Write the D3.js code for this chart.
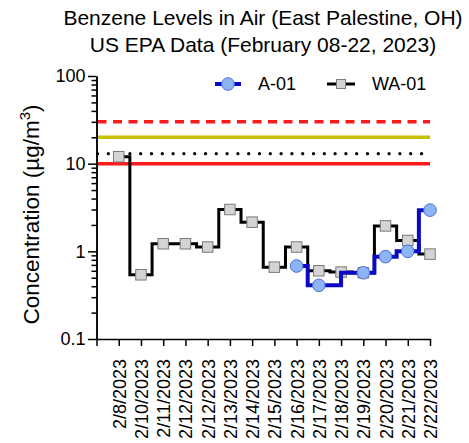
<!DOCTYPE html>
<html>
<head>
<meta charset="utf-8">
<script src="https://cdn.jsdelivr.net/npm/d3@7"></script>
<style>
  html, body { margin: 0; padding: 0; background: #fff; }
  svg { display: block; font-family: "Liberation Sans", Arial, sans-serif; }
</style>
</head>
<body>
<svg id="chart" width="469" height="443"></svg>
<script>
// ---- Data ----
const titleLines = ["Benzene Levels in Air (East Palestine, OH)", "US EPA Data (February 08-22, 2023)"];
const categories = ["2/8/2023", "2/10/2023", "2/11/2023", "2/12/2023", "2/12/2023", "2/13/2023", "2/14/2023",
  "2/15/2023", "2/16/2023", "2/17/2023", "2/18/2023", "2/19/2023", "2/20/2023", "2/21/2023", "2/22/2023"];
const seriesNames = ["A-01", "WA-01"];
const a01 = [null, null, null, null, null, null, null, null, 0.68, 0.41, null, 0.57, 0.87, 1.0, 2.95];
const wa01 = [12, 0.54, 1.22, 1.22, 1.12, 3.0, 2.15, 0.66, 1.12, 0.6, 0.58, 0.57, 1.95, 1.33, 0.93];
const refLevels = [30, 20, 13, 10];
const yTickValues = [0.1, 1, 10, 100];
const yTickLabels = ["0.1", "1", "10", "100"];

// ---- Layout ----
const svg = d3.select("#chart");
const pLeft = 96.5, pRight = 430, pTop = 76, pBottom = 339;

const x = d3.scaleLinear().domain([0, categories.length]).range([pLeft, pRight]);
const y = d3.scaleLog().domain([0.1, 100]).range([pBottom, pTop]);

// Title
svg.append("g").selectAll("text").data(titleLines).join("text")
  .attr("x", 263).attr("y", (d, i) => 25 + i * 26.5)
  .attr("text-anchor", "middle").attr("font-size", 21).attr("fill", "#000")
  .text(d => d);

// Y axis label
svg.append("text")
  .attr("transform", `translate(39,${(pTop + pBottom) / 2 + 7}) rotate(-90)`)
  .attr("text-anchor", "middle").attr("font-size", 22.5).attr("fill", "#000")
  .call(t => {
    t.append("tspan").text("Concentration (µg/m");
    t.append("tspan").attr("font-size", 15).attr("dy", -9).text("3");
    t.append("tspan").attr("dy", 9).text(")");
  });

// Reference lines
const refStyles = [
  { stroke: "#ff1a1a", width: 3.5, dash: "9 6.5", cap: "butt" },
  { stroke: "#c8c000", width: 3.5, dash: null, cap: "butt" },
  { stroke: "#000", width: 3.3, dash: "0 10.8", cap: "round" },
  { stroke: "#ff1a1a", width: 3.5, dash: null, cap: "butt" }
];
svg.append("g").selectAll("line").data(refLevels).join("line")
  .attr("x1", pLeft + 1).attr("x2", pRight)
  .attr("y1", d => y(d)).attr("y2", d => y(d))
  .attr("stroke", (d, i) => refStyles[i].stroke)
  .attr("stroke-width", (d, i) => refStyles[i].width)
  .attr("stroke-dasharray", (d, i) => refStyles[i].dash)
  .attr("stroke-linecap", (d, i) => refStyles[i].cap);

// Y axis (major + minor)
const minor = [];
[0.1, 1, 10].forEach(dec => { for (let k = 2; k <= 9; k++) minor.push(dec * k); });
const yAxisMinor = d3.axisLeft(y).tickValues(minor).tickSize(5).tickFormat("").tickSizeOuter(0);
const yAxis = d3.axisLeft(y).tickValues(yTickValues).tickSize(8.5).tickSizeOuter(0)
  .tickFormat((d, i) => yTickLabels[i]);
const gyMinor = svg.append("g").attr("transform", `translate(${pLeft},0)`).call(yAxisMinor);
const gy = svg.append("g").attr("transform", `translate(${pLeft},0)`).call(yAxis);
[gy, gyMinor].forEach(g => {
  g.selectAll("line, path").attr("stroke", "#000").attr("stroke-width", 1.5);
});
gy.selectAll("text").attr("font-size", 18).attr("fill", "#000")
  .attr("font-family", "Liberation Sans, Arial, sans-serif").attr("x", -11);

// X axis
const xTickIdx = d3.range(0, categories.length + 1);
const xAxis = d3.axisBottom(x).tickValues(xTickIdx).tickSize(7).tickSizeOuter(0)
  .tickFormat(d => d === 0 ? "" : categories[d - 1]);
const gx = svg.append("g").attr("transform", `translate(0,${pBottom})`).call(xAxis);
gx.selectAll("line, path").attr("stroke", "#000").attr("stroke-width", 1.5);
gx.selectAll("text")
  .attr("font-size", 18).attr("fill", "#000")
  .attr("font-family", "Liberation Sans, Arial, sans-serif")
  .attr("text-anchor", "end")
  .attr("transform", "rotate(-90)")
  .attr("x", -20).attr("y", 0).attr("dy", "0.36em");

// Series
const waPts = wa01.map((v, i) => ({ i, v })).filter(d => d.v != null);
const aPts = a01.map((v, i) => ({ i, v })).filter(d => d.v != null);
const line = d3.line().x(d => x(d.i + 1)).y(d => y(d.v)).curve(d3.curveStep);

svg.append("path").datum(waPts).attr("d", line)
  .attr("fill", "none").attr("stroke", "#000").attr("stroke-width", 3).attr("stroke-linejoin", "miter");
const sq = 10.5;
svg.append("g").selectAll("rect").data(waPts).join("rect")
  .attr("x", d => x(d.i + 1) - sq / 2).attr("y", d => y(d.v) - sq / 2)
  .attr("width", sq).attr("height", sq)
  .attr("fill", "#d4d4d4").attr("stroke", "#7a7a7a").attr("stroke-width", 1);

svg.append("path").datum(aPts).attr("d", line)
  .attr("fill", "none").attr("stroke", "#0a0ac4").attr("stroke-width", 4).attr("stroke-linejoin", "miter");
svg.append("g").selectAll("circle").data(aPts).join("circle")
  .attr("cx", d => x(d.i + 1)).attr("cy", d => y(d.v)).attr("r", 6.3)
  .attr("fill", "#8db5f5").attr("stroke", "#4b6fd6").attr("stroke-width", 1);

// Legend
const lg = svg.append("g");
const ly = 84;
lg.append("line").attr("x1", 215).attr("x2", 241).attr("y1", ly).attr("y2", ly)
  .attr("stroke", "#0a0ac4").attr("stroke-width", 4);
lg.append("circle").attr("cx", 228).attr("cy", ly).attr("r", 6.3)
  .attr("fill", "#8db5f5").attr("stroke", "#4b6fd6").attr("stroke-width", 1);
lg.append("text").attr("x", 258).attr("y", ly).attr("dy", "0.36em")
  .attr("font-size", 18).attr("fill", "#000").text(seriesNames[0]);
lg.append("line").attr("x1", 327).attr("x2", 355).attr("y1", ly).attr("y2", ly)
  .attr("stroke", "#000").attr("stroke-width", 3);
lg.append("rect").attr("x", 341 - 4.5).attr("y", ly - 4.5).attr("width", 9).attr("height", 9)
  .attr("fill", "#d4d4d4").attr("stroke", "#7a7a7a").attr("stroke-width", 1);
lg.append("text").attr("x", 372).attr("y", ly).attr("dy", "0.36em")
  .attr("font-size", 18).attr("fill", "#000").text(seriesNames[1]);
</script>
</body>
</html>
